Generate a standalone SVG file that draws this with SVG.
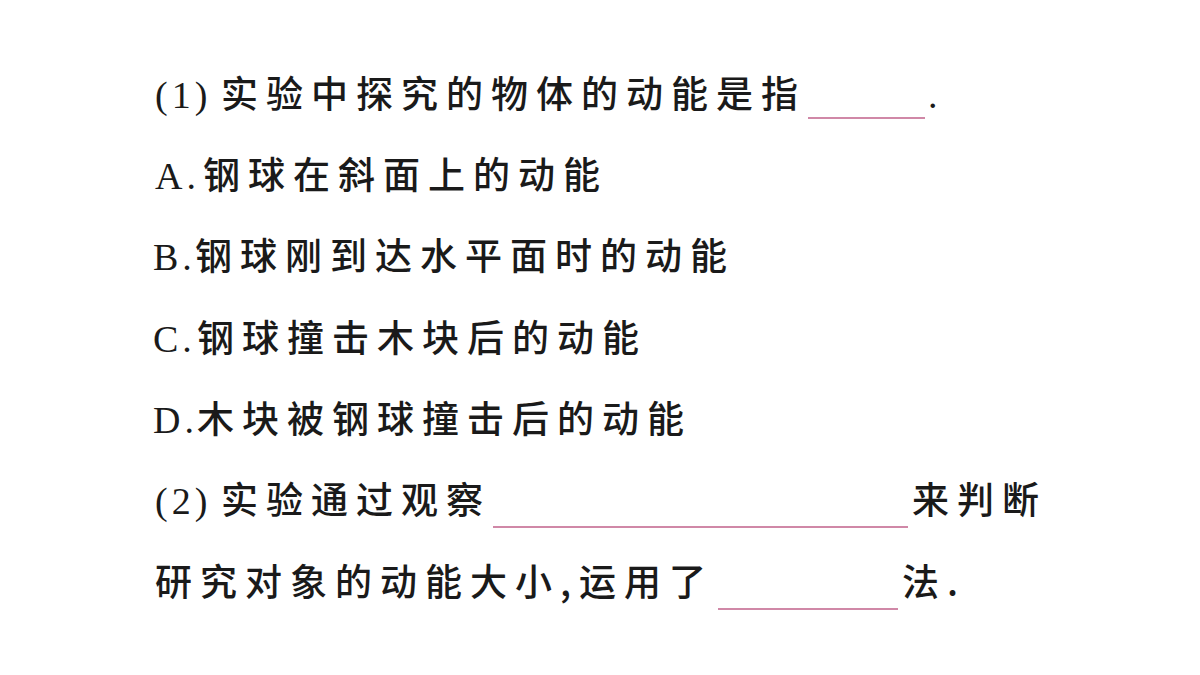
<svg xmlns="http://www.w3.org/2000/svg" width="1200" height="675" viewBox="0 0 1200 675">
<style>
.c{font-family:"Noto Sans CJK SC","Noto Sans",sans-serif;font-size:37px;font-weight:500;letter-spacing:8px;fill:#1a1a1a}
.l{font-family:"Liberation Serif",serif;font-size:38px;letter-spacing:4px;fill:#1a1a1a}
.u{stroke:#c0608a;stroke-width:1.5}
</style>
<rect width="1200" height="675" fill="#fff"/>
<text class="l" x="155" y="108">(1)</text><text class="c" x="221" y="108">实验中探究的物体的动能是指</text>
<line class="u" x1="808" y1="118" x2="925" y2="118"/><text class="l" x="928" y="108">.</text>
<text class="l" x="155" y="189">A.</text><text class="c" x="203" y="189">钢球在斜面上的动能</text>
<text class="l" x="153" y="270">B.</text><text class="c" x="195" y="270">钢球刚到达水平面时的动能</text>
<text class="l" x="153" y="352">C.</text><text class="c" x="197" y="352">钢球撞击木块后的动能</text>
<text class="l" x="153" y="433">D.</text><text class="c" x="197" y="433">木块被钢球撞击后的动能</text>
<text class="l" x="155" y="514">(2)</text><text class="c" x="221" y="514">实验通过观察</text>
<line class="u" x1="493" y1="527" x2="908" y2="527"/><text class="c" x="912" y="514">来判断</text>
<text class="c" x="155" y="596">研究对象的动能大小,运用了</text>
<line class="u" x1="718" y1="609" x2="898" y2="609"/><text class="c" x="902" y="596">法.</text>
</svg>
